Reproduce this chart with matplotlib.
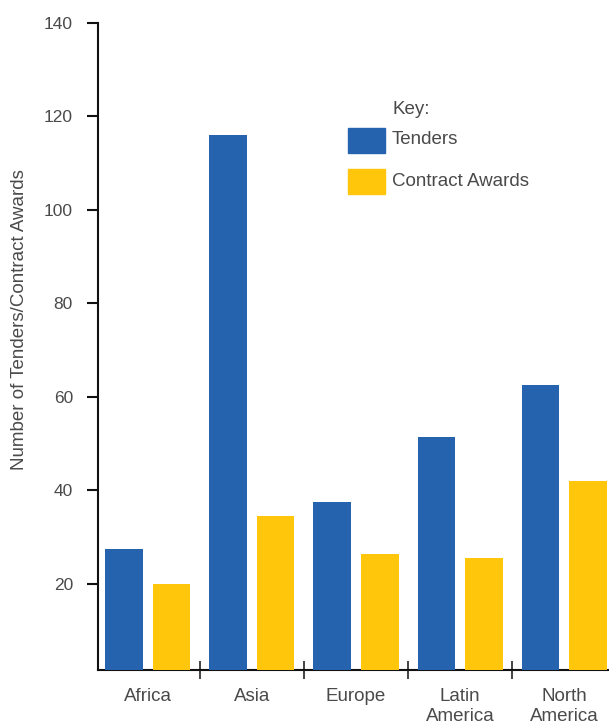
import matplotlib
matplotlib.use("Agg")
import matplotlib.pyplot as plt
from matplotlib.patches import Rectangle
import numpy as np

# Regional procurement activity
regions = ["Africa", "Asia", "Europe", "Latin\nAmerica", "North\nAmerica"]
tenders = [27.5, 116, 37.5, 51.5, 62.5]
contract_awards = [20, 34.5, 26.5, 25.5, 42]
y_ticks = [20, 40, 60, 80, 100, 120, 140]

BLUE = "#2563ae"
YELLOW = "#ffc60b"
TEXT = "#4a4a4a"

plt.rcParams["font.family"] = ["Liberation Sans", "DejaVu Sans"]

W, H = 609, 724
fig = plt.figure(figsize=(W / 100, H / 100), dpi=100)

# axes spans from the y spine to the right edge of the figure
left_px, right_px, top_px, bottom_px = 98, 609, 23, 670
ax = fig.add_axes([left_px / W, 1 - bottom_px / H,
                   (right_px - left_px) / W, (bottom_px - top_px) / H])

x = np.arange(len(regions))
bw = 0.36
off = 0.228
ax.bar(x - off, tenders, bw, color=BLUE, zorder=3)
ax.bar(x + off, contract_awards, bw, color=YELLOW, zorder=3)

ax.set_xlim(-0.475, 4.427)
ax.set_ylim(1.6, 140)

for s in ["top", "right"]:
    ax.spines[s].set_visible(False)
for s in ["left", "bottom"]:
    ax.spines[s].set_linewidth(1.5)
    ax.spines[s].set_color("#111111")
    ax.spines[s].set_zorder(2)

ax.set_yticks(y_ticks)
ax.set_yticklabels([str(v) for v in y_ticks])
ax.tick_params(axis="y", direction="out", length=8, width=1.5,
               pad=10, labelsize=12.5, labelcolor=TEXT, color="#111111")

# boundary crosses between regions; labels centred under each group
ax.set_xticks(x[:-1] + 0.5)
ax.set_xticklabels([])
ax.tick_params(axis="x", which="major", direction="inout", length=13,
               width=1.2, color="#222222")
ax.set_xticks(x, minor=True)
ax.set_xticklabels(regions, minor=True)
ax.tick_params(axis="x", which="minor", length=0, pad=13,
               labelsize=13.5, labelcolor=TEXT)
for lbl in ax.get_xticklabels(minor=True):
    lbl.set_linespacing(1.2)

fig.text(20 / W, 1 - 320 / H, "Number of Tenders/Contract Awards",
         rotation=90, ha="center", va="center", fontsize=13.5, color=TEXT)

# key
fig.text(392 / W, 1 - 110 / H, "Key:", ha="left", va="center",
         fontsize=13.5, color=TEXT)
for y0, col, name in [(128, BLUE, "Tenders"), (169, YELLOW, "Contract Awards")]:
    fig.patches.append(Rectangle((348 / W, 1 - (y0 + 25) / H), 37 / W, 25 / H,
                                 transform=fig.transFigure, color=col,
                                 figure=fig))
    fig.text(392 / W, 1 - (y0 + 12) / H, name, ha="left", va="center",
             fontsize=13.5, color=TEXT)

fig.savefig("out.png", dpi=100)
